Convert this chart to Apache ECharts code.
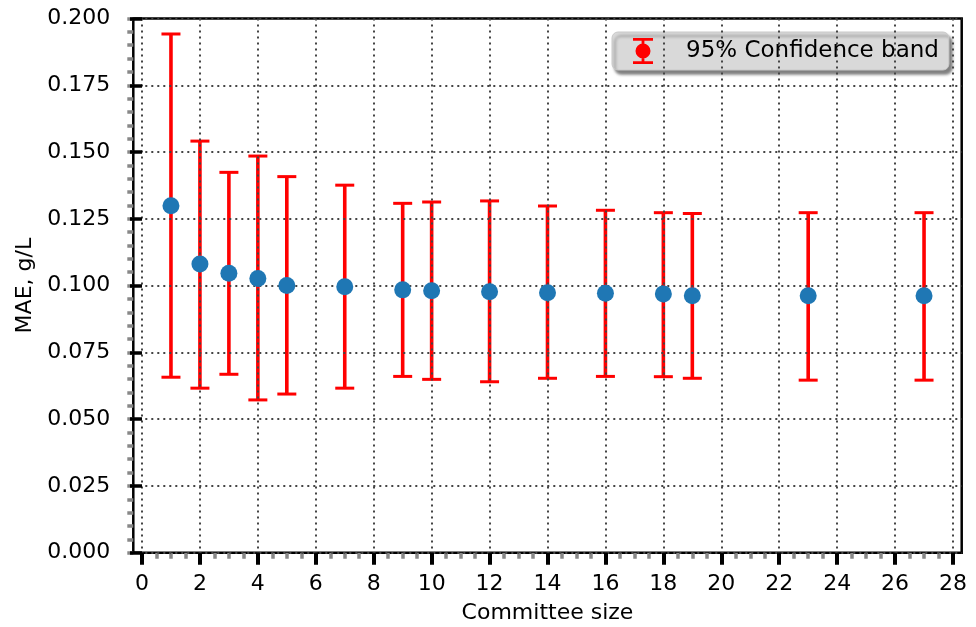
<!DOCTYPE html>
<html>
<head>
<meta charset="utf-8">
<script src="https://cdn.jsdelivr.net/npm/echarts@6/dist/echarts.min.js"></script>
<style>
  html, body { margin: 0; padding: 0; background: #fff; }
  #chart { width: 976px; height: 627px; }
</style>
</head>
<body>
<div id="chart"></div>
<script>
// Committee size vs. mean absolute error with 95% confidence bounds
const committeeSizes = [1, 2, 3, 4, 5, 7, 9, 10, 12, 14, 16, 18, 19, 23, 27];
const maeValues = [0.1299, 0.1081, 0.1046, 0.1027, 0.1000, 0.0996, 0.0984, 0.0981, 0.0977, 0.0973, 0.0971, 0.0969, 0.0962, 0.0962, 0.0962];
const lowerBounds = [0.0657, 0.0616, 0.0668, 0.0572, 0.0594, 0.0616, 0.0660, 0.0649, 0.0640, 0.0653, 0.0660, 0.0659, 0.0653, 0.0646, 0.0646];
const upperBounds = [0.1942, 0.1541, 0.1424, 0.1485, 0.1408, 0.1376, 0.1308, 0.1313, 0.1317, 0.1298, 0.1282, 0.1273, 0.1270, 0.1273, 0.1273];
const xTicks = { min: 0, max: 28, step: 2, minorStep: 0.5 };
const yTicks = { min: 0, max: 0.2, step: 0.025, minorStep: 0.005 };
const legendLabel = '95% Confidence band';

const FONT = 'DejaVu Sans';
const chart = echarts.init(document.getElementById('chart'), null, { renderer: 'canvas' });

const gridDots = { color: '#444', width: 2, type: [2, 4] };

// legend icon: marker with error bar and caps (all sub-paths wound the same way)
const errIcon = 'path://M0,0H20V2.8H0Z M8.6,0H11.4V26H8.6Z M0,23.2H20V26H0Z M2.5,13a7.5,7.5 0 1,1 15,0a7.5,7.5 0 1,1 -15,0Z';

const barData = committeeSizes.map((s, i) => [s, lowerBounds[i], upperBounds[i]]);
const pointData = committeeSizes.map((s, i) => [s, maeValues[i]]);

// tick-only axis used for the gray minor ticks
function minorAxis(extra) {
  return Object.assign({
    type: 'value', z: 3,
    axisLine: { show: false },
    axisLabel: { show: false },
    splitLine: { show: false },
    axisTick: { show: true, inside: false, length: 6, lineStyle: { color: '#888', width: 3.5 } }
  }, extra);
}

chart.setOption({
  animation: false,
  textStyle: { fontFamily: FONT },
  grid: [
    // frame with padded x range (spines + horizontal grid)
    { left: 133.3, right: 14.3, top: 18.5, bottom: 74.3, outerBoundsMode: 'none', containLabel: false,
      show: true, borderColor: '#000', borderWidth: 2.5, backgroundColor: 'transparent' },
    // data grid spanning 0..28 exactly (ticks, vertical grid, marks)
    { left: 142, right: 23, top: 18.5, bottom: 74.3, outerBoundsMode: 'none', containLabel: false }
  ],
  xAxis: [
    { gridIndex: 0, type: 'value', min: -0.3, max: 28.3, show: false },
    {
      gridIndex: 1, type: 'value', position: 'bottom', min: xTicks.min, max: xTicks.max, interval: xTicks.step, z: 4,
      name: 'Committee size', nameLocation: 'middle', nameGap: 50,
      nameTextStyle: { fontSize: 22, color: '#000', fontFamily: FONT },
      axisLine: { show: false },
      axisTick: { show: true, inside: false, length: 12, lineStyle: { color: '#000', width: 4 } },
      axisLabel: { fontSize: 22, color: '#000', margin: 21, fontFamily: FONT },
      splitLine: { show: true, lineStyle: gridDots }
    },
    minorAxis({ gridIndex: 1, position: 'bottom', min: xTicks.min, max: xTicks.max, interval: xTicks.minorStep })
  ],
  yAxis: [
    {
      gridIndex: 0, type: 'value', position: 'left', min: yTicks.min, max: yTicks.max, interval: yTicks.step, z: 4,
      name: 'MAE, g/L', nameLocation: 'middle', nameGap: 95, nameRotate: 90,
      nameTextStyle: { fontSize: 22, color: '#000', fontFamily: FONT },
      axisLine: { show: false },
      axisTick: { show: true, inside: false, length: 12, lineStyle: { color: '#000', width: 3.5 } },
      axisLabel: { fontSize: 22, color: '#000', margin: 23, fontFamily: FONT, formatter: v => v.toFixed(3) },
      splitLine: { show: true, lineStyle: gridDots }
    },
    { gridIndex: 1, type: 'value', min: yTicks.min, max: yTicks.max, show: false },
    minorAxis({ gridIndex: 0, position: 'left', offset: 0, min: yTicks.min, max: yTicks.max, interval: yTicks.minorStep })
  ],
  legend: {
    left: 612, top: 32,
    orient: 'horizontal',
    data: [{ name: legendLabel, icon: errIcon }],
    itemWidth: 20, itemHeight: 26,
    padding: [6, 10, 6, 21],
    backgroundColor: '#d9d9d9',
    borderColor: '#c8c8c8', borderWidth: 1, borderRadius: 6,
    shadowColor: 'rgba(0,0,0,0.5)', shadowBlur: 3, shadowOffsetX: 3, shadowOffsetY: 4,
    textStyle: { fontSize: 23, color: '#000', fontFamily: FONT, padding: [0, 0, 0, 28] },
    selectedMode: false
  },
  series: [
    {
      name: legendLabel,
      type: 'custom',
      xAxisIndex: 1, yAxisIndex: 1,
      z: 2,
      itemStyle: { color: '#ff0000' },
      data: barData,
      encode: { x: 0, y: [1, 2] },
      renderItem: function (params, api) {
        const x = api.value(0);
        const lo = api.coord([x, api.value(1)]);
        const hi = api.coord([x, api.value(2)]);
        const half = 9.5;
        const cap = { stroke: '#ff0000', lineWidth: 3 };
        return {
          type: 'group',
          children: [
            { type: 'line', shape: { x1: lo[0], y1: lo[1], x2: hi[0], y2: hi[1] }, style: { stroke: '#ff0000', lineWidth: 3.6 } },
            { type: 'line', shape: { x1: hi[0] - half, y1: hi[1], x2: hi[0] + half, y2: hi[1] }, style: cap },
            { type: 'line', shape: { x1: lo[0] - half, y1: lo[1], x2: lo[0] + half, y2: lo[1] }, style: cap }
          ]
        };
      }
    },
    {
      name: 'MAE',
      type: 'scatter',
      xAxisIndex: 1, yAxisIndex: 1,
      z: 5,
      symbol: 'circle',
      symbolSize: 17,
      itemStyle: { color: '#1f77b4', opacity: 1 },
      data: pointData
    }
  ]
});
</script>
</body>
</html>
